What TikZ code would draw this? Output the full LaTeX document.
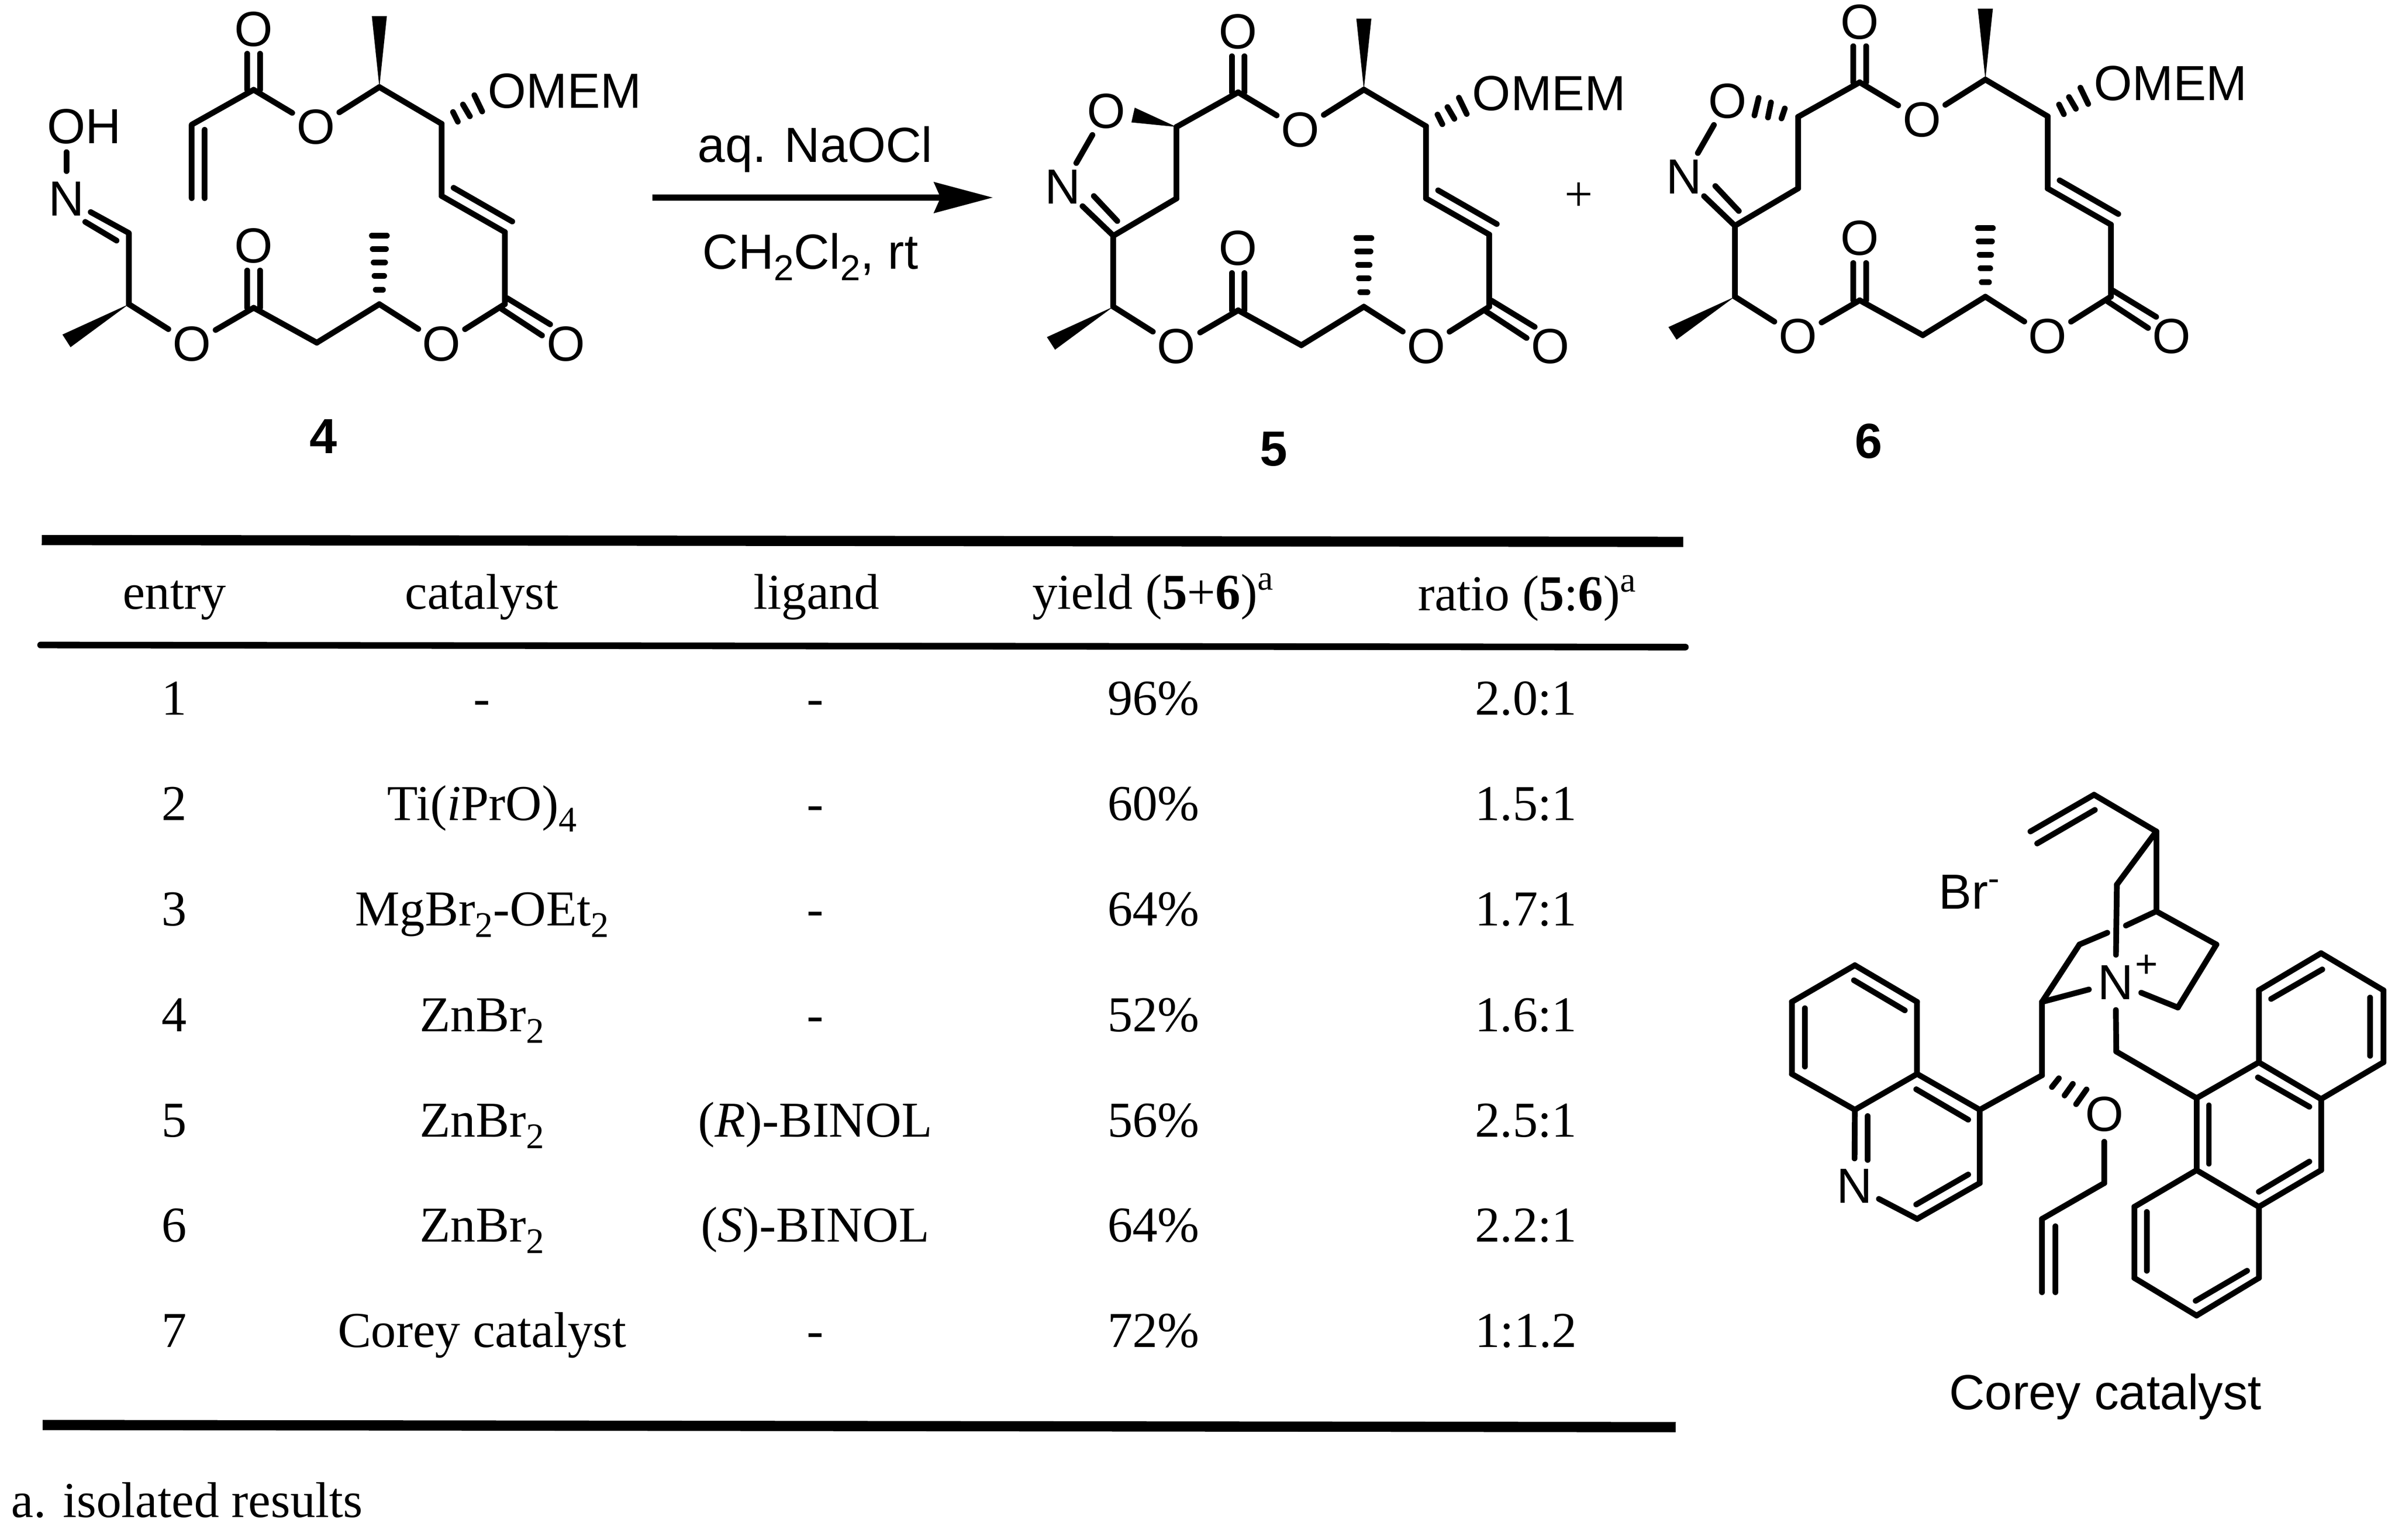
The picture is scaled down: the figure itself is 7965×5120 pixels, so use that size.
\documentclass[tikz,border=0pt]{standalone}
\usepackage{fontspec}
\usepackage{tikz}
\usetikzlibrary{arrows.meta}
\setmainfont{Liberation Serif}
\newfontfamily\chemfont{Liberation Sans}
\newcommand{\chemtext}{\chemfont\fontsize{16.4}{19}\selectfont}
\newcommand{\tabtext}{\rmfamily\fontsize{16.7}{20}\selectfont}
\newcommand{\lowsub}[1]{\raisebox{-3.8pt}{\fontsize{12}{14}\selectfont #1}}

\tikzset{
  bond/.style = {line width = 1.9pt, line cap = round, line join = round},
  wedge/.style = {fill = black},
  atom/.style = {circle, inner sep = 0pt, minimum size = 18pt, font = \chemtext},
  chemlabel/.style = {inner sep = 0pt, font = \chemtext},
  cell/.style = {inner sep = 0pt, anchor = base, font = \tabtext},
  rulethick/.style = {line width = 3.4pt},
  pics/macroring/.style = {code = {
    \foreach \n/\x/\y in {c0/0/0, c1/415/12, c2/625/128, c3/833/0, c4/1250/0, c5/1250/-240,
                          c6/1040/-360, c7/1040/-600, c8/833/-722, c9/415/-713}
      \coordinate (-\n) at (\x,\y);
    \foreach \n/\x/\y in {olow/209/132, o1/415/-195, o2/1040/132, o3/1453/132, o4/622/-589, o5/415/-914}
      \node[atom] (-\n) at (\x,\y) {O};
    \node[chemlabel, anchor = west] (-omem) at (1192,-709) {OMEM};
    \foreach \a/\b in {c0/olow, olow/c1, c1/c2, c2/c3, c3/o2, o2/c4, c4/c5, c5/c6, c6/c7, c7/c8, c8/o4, o4/c9}
      \draw[bond] (-\a) -- (-\b);
    \foreach \s in {-21,21} {
      \draw[bond] ([xshift = \s*0.1pt]-c9) -- ([shift = {(\s,-120)}]-c9);
      \draw[bond] ([xshift = \s*0.1pt]-c1) -- ([shift = {(\s,-124)}]-c1);
    }
    \draw[bond] ([shift = {(40,-27)}]-c6) -- ([shift = {(235,85)}]-c6);
    \draw[bond] ([shift = {(-10,16)}]-c4) -- ([shift = {(124,104)}]-c4);
    \draw[bond] ([shift = {(8,-20)}]-c4) -- ([shift = {(151,67)}]-c4);
    \fill[wedge] (-c8) -- ([shift = {(-25,-236)}]-c8) -- ([shift = {(25,-236)}]-c8) -- cycle;
    \fill[wedge] (-c0) -- ([shift = {(-221,101)}]-c0) -- ([shift = {(-194,143)}]-c0) -- cycle;
    \foreach \d/\w in {-228/25, -184/22, -139/19, -94/16, -48/12}
      \draw[bond] ([shift = {(-\w,\d)}]-c3) -- ([shift = {(\w,\d)}]-c3);
    \draw[bond] ([shift = {(38,-39)}]-c7) -- ([shift = {(54,-7)}]-c7);
    \draw[bond] ([shift = {(71,-64)}]-c7) -- ([shift = {(94,-25)}]-c7);
    \draw[bond] ([shift = {(109,-95)}]-c7) -- ([shift = {(135,-41)}]-c7);
  }},
  pics/isoxring/.style = {code = {
    \foreach \n/\x/\y in {c12/0/-236, c13/210/-360, c14/210/-598}
      \coordinate (-\n) at (\x,\y);
    \node[atom] (-nx) at (-169,-398) {N};
    \node[atom] (-ox) at (-24,-651) {O};
    \foreach \a/\b in {c0/c12, c12/c13, c13/c14, c14/c9, nx/c12, nx/ox}
      \draw[bond] (-\a) -- (-\b);
    \draw[bond] ([shift = {(-65,-132)}]-c12) -- ([shift = {(13,-49)}]-c12);
  }}
}

\begin{document}
\begin{tikzpicture}[x = 0.1pt, y = -0.1pt]
  \useasboundingbox (0,0) rectangle (7965,5120);

  \pic (mfour) at (428.6,1011.6) {macroring};
  \coordinate (vinA) at (637.5,414.6);
  \coordinate (vinB) at (637.5,659);
  \coordinate (imC) at (428.6,775);
  \node[atom] (imN) at (221,661) {N};
  \node[chemlabel] (imOH) at (280,421) {OH};
  \draw[bond] (mfour-c9) -- (vinA) -- (vinB);
  \draw[bond] ([shift = {(43,17)}]vinA) -- ([xshift = 4.3pt]vinB);
  \draw[bond] (mfour-c0) -- (imC) -- (imN);
  \draw[bond] ([shift = {(-145,-37)}]imC) -- ([shift = {(-41,25)}]imC);
  \draw[bond] (imN) -- ([yshift = -2.5pt]imN |- imOH.south);
  \node[cell, font = \chemfont\bfseries\fontsize{16.4}{19}\selectfont, anchor = center] (lblfour) at (1075,1452) {4};

  \coordinate (arrA) at (2169,657);
  \coordinate (arrB) at (3302,657);
  \draw[line width = 2pt, -{Stealth[length = 19.5pt, width = 10.1pt, inset = 2.1pt]}] (arrA) -- (arrB);
  \node[chemlabel, anchor = base] (reagA) at (2711,540) {aq. NaOCl};
  \node[chemlabel, anchor = base] (reagB) at (2695,895) {CH\lowsub{2}Cl\lowsub{2}, rt};

  \pic (mfive) at (3702.7,1020) {macroring};
  \pic (mfive) at (3702.7,1020) {isoxring};
  \fill[wedge] (mfive-c14) -- ([shift = {(-139,-64)}]mfive-c14) -- ([shift = {(-150,-15)}]mfive-c14) -- cycle;
  \node[cell, font = \chemfont\bfseries\fontsize{16.4}{19}\selectfont, anchor = center] (lblfive) at (4236,1493) {5};
  \node[cell, anchor = center] (plus) at (5250,655) {+};

  \pic (msix) at (5769.6,986.7) {macroring};
  \pic (msix) at (5769.6,986.7) {isoxring};
  \draw[bond] ([shift = {(-44,-28)}]msix-c14) -- ([shift = {(-55,5)}]msix-c14);
  \draw[bond] ([shift = {(-90,-48)}]msix-c14) -- ([shift = {(-100,2)}]msix-c14);
  \draw[bond] ([shift = {(-131,-63)}]msix-c14) -- ([shift = {(-145,-5)}]msix-c14);
  \node[cell, font = \chemfont\bfseries\fontsize{16.4}{19}\selectfont, anchor = center] (lblsix) at (6215,1467) {6};

  \coordinate (ruleAl) at (139,1796);
  \coordinate (ruleAr) at (5598,1802);
  \coordinate (ruleBl) at (135,2145);
  \coordinate (ruleBr) at (5605,2152);
  \coordinate (ruleCl) at (142,4739);
  \coordinate (ruleCr) at (5573,4746);
  \draw[rulethick] (ruleAl) -- (ruleAr);
  \draw[line width = 2.2pt, line cap = round] (ruleBl) -- (ruleBr);
  \draw[rulethick] (ruleCl) -- (ruleCr);

  \node[cell] (headA) at (580,2025) {entry};
  \node[cell] (headB) at (1602,2025) {catalyst};
  \node[cell] (headC) at (2715,2025) {ligand};
  \node[cell] (headD) at (3836,2025) {yield (\textbf{5}+\textbf{6})\textsuperscript{a}};
  \node[cell] (headE) at (5080,2030) {ratio (\textbf{5}:\textbf{6})\textsuperscript{a}};

  \foreach \r/\yy/\cat/\lig/\yld/\rat in {
      1/2378/{-}/{-}/96\%/2.0:1,
      2/2728/{Ti(\textit{i}PrO)\lowsub{4}}/{-}/60\%/1.5:1,
      3/3079/{MgBr\lowsub{2}-OEt\lowsub{2}}/{-}/64\%/1.7:1,
      4/3430/{ZnBr\lowsub{2}}/{-}/52\%/1.6:1,
      5/3781/{ZnBr\lowsub{2}}/{(\textit{R})-BINOL}/56\%/2.5:1,
      6/4130/{ZnBr\lowsub{2}}/{(\textit{S})-BINOL}/64\%/2.2:1,
      7/4481/{Corey catalyst}/{-}/72\%/1:1.2} {
    \node[cell] (row\r a) at (580,\yy) {\r};
    \node[cell] (row\r b) at (1603,\yy) {\cat};
    \node[cell] (row\r c) at (2711,\yy) {\lig};
    \node[cell] (row\r d) at (3836,\yy) {\yld};
    \node[cell] (row\r e) at (5075,\yy) {\rat};
  }
  \node[cell, anchor = base west] (footnote) at (36,5045) {a. isolated results};

  \foreach \n/\x/\y in {q1/6168.6/3210, q2/6375.7/3332, q3/6375.7/3571.5, q4/6168.6/3690.6,
                        q5/5958.8/3571.5, q6/5958.8/3332, q8/6375.7/4053.6, q9/6584/3934.5,
                        q10/6584/3690.6, cm/6791/3576, ct/6791/3332,
                        ally1/6998/3934.5, ally2/6791/4053.6, ally3/6791/4297.5,
                        br1/6915.6/3141, br2/7171/3030.6, br3/7371/3141, br4/7242.8/3350.6,
                        br5/7171/2765, br6/7040/2941.7, br7/6964/2643, br8/6752.6/2765,
                        br9/7038/3497, gapA/7008/3102, gapB/7070/3078,
                        a1/7305/3652, a2/7512/3533, a3/7512/3293, a4/7719/3170,
                        a5/7926/3293, a6/7926/3533, a7/7719/3655, a8/7719/3891.5,
                        a9/7512/4013.4, a10/7305/3891.5, a11/7098/4013.4, a12/7098/4250,
                        a13/7305/4375, a14/7512/4250}
    \coordinate (\n) at (\x,\y);
  \node[atom] (qN) at (6167,3944.5) {N};
  \node[atom] (catO) at (6998,3705) {O};
  \node[atom] (catN) at (7035.7,3267) {N};
  \node[chemlabel, font = \chemfont\fontsize{13}{15}\selectfont] (catPlus) at (7139,3213) {+};
  \node[chemlabel, anchor = base west] (brion) at (6446,3023) {Br\textsuperscript{-}};
  \node[chemlabel, anchor = base] (catname) at (7002,4688) {Corey catalyst};

  \foreach \a/\b in {q1/q2, q2/q3, q3/q4, q4/q5, q5/q6, q6/q1, q4/qN, qN/q8, q8/q9, q9/q10, q10/q3,
                     q10/cm, cm/ct, ct/catN, ct/br1, br1/gapA, gapB/br2, br2/br3, br3/br4, br4/catN,
                     br2/br5, br5/br6, br6/catN, br5/br7, br7/br8, catN/br9, br9/a1,
                     catO/ally1, ally1/ally2, ally2/ally3,
                     a1/a2, a2/a3, a3/a4, a4/a5, a5/a6, a6/a7, a7/a2, a7/a8, a8/a9, a9/a10,
                     a10/a1, a10/a11, a11/a12, a12/a13, a13/a14, a14/a9}
    \draw[bond] (\a) -- (\b);

  \draw[bond] ([shift = {(-3,50)}]q1) -- ([shift = {(-41,28)}]q2);
  \draw[bond] ([shift = {(44,21)}]q6) -- ([shift = {(44,-24.5)}]q5);
  \draw[bond] ([shift = {(-3,51)}]q3) -- ([shift = {(-38.5,33)}]q10);
  \draw[bond] ([shift = {(43,21)}]q4) -- ([shift = {(43,167)}]q4);
  \draw[bond] ([shift = {(-3,-48)}]q8) -- ([shift = {(-38.5,-28.5)}]q9);
  \draw[bond] ([shift = {(41,29)}]a3) -- ([shift = {(4,54)}]a4);
  \draw[bond] ([shift = {(-44,24.5)}]a5) -- ([shift = {(-44,-22)}]a6);
  \draw[bond] ([shift = {(-3,50)}]a2) -- ([shift = {(-39,25.6)}]a7);
  \draw[bond] ([shift = {(41,24)}]a1) -- ([shift = {(41,-21.5)}]a10);
  \draw[bond] ([shift = {(-39,-28.5)}]a8) -- ([shift = {(0,-50)}]a9);
  \draw[bond] ([shift = {(41,17)}]a11) -- ([shift = {(41,-24)}]a12);
  \draw[bond] ([shift = {(-3,-49)}]a13) -- ([shift = {(-39,-24)}]a14);
  \draw[bond] ([shift = {(44.5,24.5)}]ally2) -- ([xshift = 4.45pt]ally3);
  \draw[bond] ([shift = {(2.7,50.5)}]br7) -- ([shift = {(22.4,40)}]br8);

  \draw[bond] ([shift = {(33,39)}]cm) -- ([shift = {(56,10)}]cm);
  \draw[bond] ([shift = {(75,67)}]cm) -- ([shift = {(102.5,28.5)}]cm);
  \draw[bond] ([shift = {(113.5,96)}]cm) -- ([shift = {(148,47)}]cm);
\end{tikzpicture}
\end{document}
